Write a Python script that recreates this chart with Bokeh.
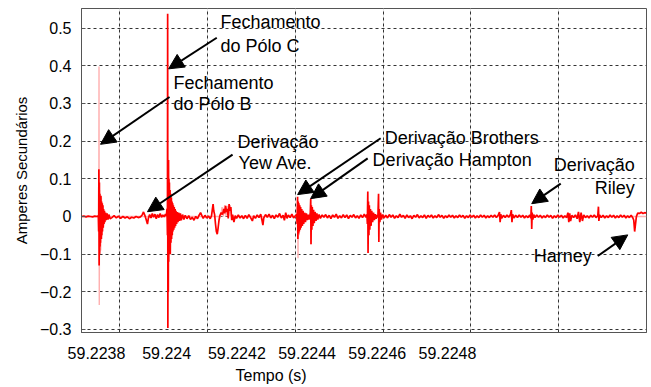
from bokeh.plotting import figure
from bokeh.models import (Range1d, LinearAxis, FixedTicker, Grid, Label, Arrow,
                          NormalHead, Title)
from bokeh.embed import file_html
from bokeh.resources import INLINE

# ---------------- data (time in microseconds after 59.2237 s, amperes) -------------
T0 = 59.2237

pre_b = [(13, 0.000), (18, 0.001), (23, -0.001), (28, 0.001), (33, 0.000), (38, -0.001),
         (43, 0.001), (48, 0.000), (51, 0.002)]
burst_b = [(51.8, -0.04), (52.3, 0.125), (52.9, -0.13), (53.5, 0.09), (54, -0.10),
           (54.5, 0.06), (55, -0.08), (55.5, 0.05), (56, -0.07), (57, 0.055), (57.5, -0.06),
           (58.5, 0.04), (59, -0.05), (60, 0.035), (60.5, -0.04), (61.5, 0.03), (62, -0.03),
           (63, 0.02), (64, -0.02), (65, 0.015), (66, -0.015), (67.5, 0.01), (69, -0.01),
           (71, 0.008), (73, -0.008), (75, 0.005), (78, -0.006)]
between_b_c = [(82, -0.003), (87, 0.002), (92, -0.004), (97, 0.001), (102, -0.005),
               (107, 0.0), (112, -0.004), (117, -0.001), (122, -0.006), (127, -0.002),
               (132, -0.004), (137, 0.0), (142, -0.003), (147, -0.001), (151, 0.004),
               (154, 0.012), (157, 0.003), (160, -0.008), (163, -0.02), (165, -0.005),
               (168, 0.005), (171, -0.004), (174, 0.008), (177, -0.002), (180, 0.006),
               (183, -0.006), (186, 0.005), (189, -0.003), (192, 0.008), (195, -0.002),
               (198, 0.004), (201, -0.001), (204, 0.006), (206, 0.002)]
burst_c = [(207.5, 0.02), (208.5, -0.05), (209, 0.538), (209.5, -0.296), (210, 0.12),
           (210.5, -0.2), (211, 0.15), (211.5, -0.12), (212, 0.1), (212.5, -0.1), (213, 0.09),
           (213.5, -0.08), (214.5, 0.07), (215, -0.1), (216, 0.06), (216.5, -0.07),
           (217.5, 0.05), (218, -0.06), (219, 0.04), (219.5, -0.05), (220.5, 0.035),
           (221, -0.04), (222, 0.03), (223, -0.035), (224, 0.025), (225, -0.03), (226, 0.02),
           (227, -0.025), (228, 0.015), (229.5, -0.02), (231, 0.012), (232.5, -0.015),
           (234, 0.01), (236, -0.012), (238, 0.008), (240, -0.01), (243, 0.005), (246, -0.008)]
between_c_br = [(249, 0.003), (253, -0.006), (257, 0.002), (261, -0.008), (265, -0.002),
                (269, -0.01), (273, 0.0), (277, -0.006), (281, 0.004), (284, 0.01),
                (287, 0.002), (290, -0.005), (294, 0.003), (298, -0.004), (302, 0.001),
                (306, -0.006), (309, 0.002), (311, 0.02), (312.5, 0.033), (314, 0.015),
                (316, 0.005), (318, -0.02), (320, -0.04), (322, -0.047), (324, -0.03),
                (326, -0.01), (328, 0.002), (331, 0.01), (334, 0.005), (337, 0.02),
                (339, 0.008), (341, 0.028), (343, 0.012), (345, 0.02), (347, -0.005),
                (349, 0.033), (351, 0.015), (353, 0.025), (355, -0.01), (357, 0.005),
                (360, -0.015), (363, 0.002), (366, -0.005), (370, 0.004), (374, -0.004),
                (378, 0.002), (382, -0.006), (386, 0.003), (390, -0.005), (394, 0.005),
                (398, -0.003), (402, -0.012), (405, 0.002), (409, -0.005), (413, 0.004),
                (417, -0.003), (421, 0.006), (424, -0.01), (426, -0.023), (428, -0.004),
                (432, 0.005), (436, -0.002), (440, 0.006), (444, -0.004), (448, 0.003),
                (452, -0.006), (456, 0.004), (460, -0.002), (464, 0.008), (468, -0.004),
                (472, 0.003), (475, -0.01), (478, 0.01), (481, -0.005), (484, 0.004),
                (488, -0.003), (492, 0.006), (496, -0.004), (500, 0.002), (503, 0.005)]
burst_br_ha = [(504, -0.02), (505, 0.052), (505.7, -0.06), (506.5, 0.04), (507.3, -0.045),
               (508, 0.035), (509, -0.04), (510, 0.03), (511, -0.035), (512, 0.025),
               (513, -0.03), (514.5, 0.02), (516, -0.025), (517.5, 0.015), (519, -0.02),
               (521, 0.01), (523, -0.015), (525, 0.008), (527, -0.01), (529, 0.005),
               (531, -0.008), (533, 0.003), (534, 0.01), (535, 0.047), (535.6, -0.074),
               (536.5, 0.03), (537.5, -0.035), (538.5, 0.025), (540, -0.025), (541.5, 0.018),
               (543, -0.018), (545, 0.012), (547, -0.012), (549, 0.008), (551, -0.008),
               (554, 0.005), (557, -0.005), (561, 0.004)]
between_ha_ev = [(565, -0.002), (569, 0.005), (573, -0.004), (577, 0.003), (581, -0.006),
                 (585, 0.004), (589, -0.002), (593, 0.006), (597, -0.005), (601, 0.002),
                 (605, -0.004), (609, 0.005), (613, -0.003), (617, 0.004), (621, -0.006),
                 (625, 0.003), (629, -0.002), (633, 0.005), (637, -0.004), (641, 0.002),
                 (645, -0.005), (649, 0.004), (653, -0.003), (657, 0.006), (661, -0.002),
                 (663, 0.005)]
burst_mid = [(664, -0.02), (665, 0.066), (665.6, -0.097), (666.5, 0.04), (667.5, -0.05),
             (668.5, 0.03), (669.5, -0.035), (671, 0.02), (672.5, -0.025), (674, 0.015),
             (676, -0.015), (678, 0.01), (680, -0.01), (682, 0.006), (684, -0.006),
             (686, 0.004), (688, -0.003), (689.5, 0.06), (690.2, -0.068), (691, 0.02),
             (692.5, -0.015), (694, 0.01), (696, -0.008), (699, 0.005), (702, -0.004)]
tail = [(706, 0.003), (710, -0.004), (714, 0.005), (718, -0.002), (722, 0.004), (726, -0.005),
        (730, 0.002), (734, -0.003), (738, 0.006), (742, -0.002), (746, 0.003), (750, -0.005),
        (754, 0.004), (758, -0.003), (762, 0.002), (766, -0.006), (770, 0.003), (774, -0.002),
        (778, 0.005), (782, -0.004), (786, 0.002), (790, -0.003), (794, 0.004), (798, -0.005),
        (802, 0.003), (806, -0.002), (810, 0.004), (814, -0.004), (818, 0.002), (822, -0.003),
        (826, 0.005), (830, -0.002), (834, 0.003), (838, -0.005), (842, 0.002), (846, -0.003),
        (850, 0.004), (854, -0.002), (858, 0.003), (862, -0.004), (866, 0.002), (870, -0.003),
        (874, 0.004), (878, -0.002), (882, 0.003), (886, -0.005), (890, 0.002), (894, -0.003),
        (898, 0.004), (902, -0.002), (906, 0.003), (910, -0.004), (914, 0.002), (918, -0.003),
        (922, 0.004), (926, -0.002), (930, 0.003), (934, -0.004), (938, 0.002), (942, -0.003),
        (946, 0.003), (950, -0.002), (954, 0.004), (958, -0.003), (962, 0.003), (965, 0.012),
        (966.5, -0.015), (968, 0.006), (970, -0.005), (974, 0.003), (978, -0.003), (982, 0.004),
        (986, -0.002), (990, 0.005), (992, 0.017), (993.5, -0.015), (995, 0.006), (998, -0.004),
        (1002, 0.003), (1006, -0.003), (1010, 0.004), (1014, -0.002), (1018, 0.003),
        (1022, -0.004), (1026, 0.002), (1030, -0.003), (1034, 0.004), (1036.5, -0.005),
        (1037.5, 0.028), (1038.5, -0.033), (1039.5, 0.01), (1041, -0.008), (1043, 0.005),
        (1046, -0.003), (1050, 0.004), (1054, -0.002), (1058, 0.003), (1062, -0.004),
        (1066, 0.002), (1070, -0.003), (1074, 0.004), (1078, -0.002), (1082, 0.003),
        (1086, -0.005), (1090, 0.002), (1094, -0.003), (1098, 0.004), (1102, -0.002),
        (1106, 0.003), (1110, -0.004), (1114, 0.002), (1118, -0.003), (1121, 0.01),
        (1123, -0.015), (1125, 0.008), (1127, -0.012), (1130, 0.003), (1134, -0.003),
        (1138, 0.004), (1142, -0.006), (1145, 0.012), (1148, -0.015), (1151, 0.01),
        (1154, -0.012), (1157, 0.004), (1161, -0.003), (1165, 0.002), (1169, -0.004),
        (1173, 0.003), (1177, -0.002), (1181, 0.004), (1185, -0.003), (1189, 0.002),
        (1190.5, 0.026), (1191.5, -0.012), (1193, 0.004), (1197, -0.003), (1201, 0.003),
        (1205, -0.004), (1209, 0.002), (1213, -0.003), (1217, 0.004), (1221, -0.002),
        (1225, 0.003), (1229, -0.004), (1233, 0.002), (1237, -0.003), (1241, 0.004),
        (1245, -0.002), (1249, 0.003), (1253, -0.004), (1257, 0.002), (1261, -0.003),
        (1265, 0.003), (1269, -0.004), (1271, -0.01), (1273, -0.04), (1275, -0.02),
        (1277, 0.0), (1280, 0.009), (1284, 0.008), (1288, 0.011), (1292, 0.008),
        (1296, 0.01), (1300, 0.009)]

# secondary (light) channel, mostly hidden under the main trace
light_trace = [(13, 0.0), (51, 0.0), (52.1, 0.0), (52.6, 0.398), (53.2, -0.235), (53.8, 0.07),
               (54.5, -0.095), (55.5, 0.06), (56.5, -0.09), (58, 0.05), (59.5, -0.06),
               (61, 0.03), (63, -0.03), (66, 0.0), (330, 0.0), (333, 0.025), (336, 0.0),
               (339, 0.03), (342, 0.0), (345, 0.028), (348, 0.0), (351, 0.03), (354, 0.0),
               (503, 0.0), (505.3, 0.03), (506, -0.111), (507, 0.03), (508.5, -0.05),
               (510, 0.0), (535.2, 0.0), (535.8, -0.074), (537, 0.0), (1300, 0.0)]

tick_labels = ["59.2238", "59.224", "59.2242", "59.2244", "59.2246", "59.2248"]
grid_seconds = [59.2238, 59.2240, 59.2242, 59.2244, 59.2246, 59.2248]
y_ticks = [-0.3, -0.2, -0.1, 0.0, 0.1, 0.2, 0.3, 0.4, 0.5]

main_trace = (pre_b + burst_b + between_b_c + burst_c + between_c_br + burst_br_ha
              + between_ha_ev + burst_mid + tail)

def to_xy(points):
    xs = [T0 + t * 1e-6 for t, _ in points]
    ys = [a for _, a in points]
    return xs, ys

mx, my = to_xy(main_trace)
lx, ly = to_xy(light_trace)

FONT = "Liberation Sans"
TXT = "#000000"

p = figure(width=651, height=387, output_backend="svg", toolbar_location=None,
           x_range=Range1d(59.2237127, 59.2250), y_range=Range1d(-0.308, 0.552),
           x_axis_location=None, min_border_left=81, min_border_right=5,
           min_border_top=8, min_border_bottom=10)
p.background_fill_color = "white"
p.border_fill_color = "white"
p.outline_line_color = "#555555"
p.outline_line_width = 1

# label axis (labels are laid out on their own index scale, as in the reference)
p.extra_x_ranges["lab"] = Range1d(-0.2137, 7.835)
xaxis = LinearAxis(x_range_name="lab", ticker=FixedTicker(ticks=list(range(len(tick_labels)))),
                   major_label_overrides={i: s for i, s in enumerate(tick_labels)})
xaxis.major_tick_line_color = None
xaxis.minor_tick_line_color = None
xaxis.axis_line_color = "#555555"
xaxis.major_label_text_font = FONT
xaxis.major_label_text_font_size = "16px"
xaxis.major_label_text_color = TXT
xaxis.major_label_standoff = 8
p.add_layout(xaxis, "below")

p.add_layout(Title(text="Tempo (s)", align="left", offset=154, text_font=FONT, standoff=7,
                   text_font_size="16px", text_font_style="normal", text_color=TXT),
             "below")

xgrid = Grid(dimension=0, ticker=FixedTicker(ticks=grid_seconds),
             grid_line_color="#333333", grid_line_dash="3 3", grid_line_width=1)
p.add_layout(xgrid)

yaxis = p.yaxis[0]
yaxis.ticker = FixedTicker(ticks=y_ticks)
yaxis.major_label_overrides = {v: ("0" if v == 0 else ("\u2212" if v < 0 else "") + f"{abs(v):.1f}")
                               for v in y_ticks}
yaxis.major_tick_in = 4
yaxis.major_tick_out = 0
yaxis.minor_tick_line_color = None
yaxis.axis_line_color = "#555555"
yaxis.major_tick_line_color = "#555555"
yaxis.major_label_text_font = FONT
yaxis.major_label_text_font_size = "16px"
yaxis.major_label_text_color = TXT
yaxis.major_label_standoff = 10
yaxis.axis_label = "Amperes Secundários"
yaxis.axis_label_text_font = FONT
yaxis.axis_label_text_font_size = "15px"
yaxis.axis_label_text_font_style = "normal"
yaxis.axis_label_text_color = TXT
yaxis.axis_label_standoff = 7
p.ygrid.grid_line_color = "#333333"
p.ygrid.grid_line_dash = "3 3"
p.ygrid.ticker = FixedTicker(ticks=y_ticks)

p.line(lx, ly, line_color="#ffb0b0", line_width=1.4)
p.line(mx, my, line_color="#ff0000", line_width=1.7)

# ---------------- annotations ----------------
def sx(us):
    return T0 + us * 1e-6

texts = [
    ("Fechamento", 329.5, 0.515, "left"),
    ("do Pólo C", 329.5, 0.4533, "left"),
    ("Fechamento", 222.4, 0.3544, "left"),
    ("do Pólo B", 222.4, 0.2983, "left"),
    ("Derivação", 368.2, 0.1968, "left"),
    ("Yew Ave.", 370.5, 0.1408, "left"),
    ("Derivação Brothers", 703.4, 0.2083, "left"),
    ("Derivação Hampton", 676.0, 0.1488, "left"),
    ("Derivação", 1273.3, 0.1354, "right"),
    ("Riley", 1273.3, 0.0767, "right"),
    ("Harney", 1043.0, -0.105, "left"),
]
for txt, us, a, al in texts:
    p.add_layout(Label(x=sx(us), y=a, text=txt, text_align=al, text_baseline="middle",
                       text_font=FONT, text_font_size="18px", text_color=TXT))

arrows = [
    (320.9, 0.4743, 211.2, 0.3918),
    (213.3, 0.3170, 56.0, 0.1915),
    (356.9, 0.1642, 163.1, 0.0126),
    (694.3, 0.2077, 505.1, 0.0580),
    (664.7, 0.1541, 534.7, 0.0473),
    (1104.6, 0.0873, 1038.5, 0.0339),
    (1188.9, -0.105, 1257.3, -0.0489),
]
for x0, y0, x1, y1 in arrows:
    p.add_layout(Arrow(end=NormalHead(size=15, fill_color="black", line_color="black"),
                       x_start=sx(x0), y_start=y0, x_end=sx(x1), y_end=y1,
                       line_color="black", line_width=2))

open("out.html", "w").write(file_html(p, INLINE))
